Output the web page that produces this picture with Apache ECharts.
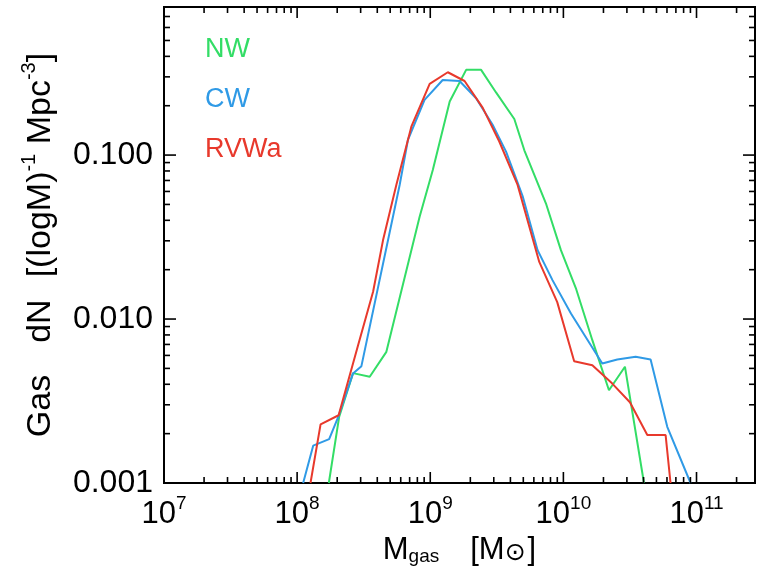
<!DOCTYPE html>
<html><head><meta charset="utf-8">
<script src="https://cdn.jsdelivr.net/npm/echarts@6/dist/echarts.min.js"></script>
<style>html,body{margin:0;padding:0;background:#fff}#c{width:758px;height:575px}</style>
</head><body><div id="c"></div>
<script>
// ---- data ----
const seriesNames = ['NW', 'CW', 'RVWa'];
const seriesColors = ['#33dd66', '#2f9ae6', '#e8392c'];
const massNW = [1.73e8, 2.07e8, 2.63e8, 3.51e8, 4.68e8, 8.32e8, 1.045e9, 1.40e9, 1.86e9, 2.41e9, 3.12e9, 4.28e9, 5.09e9, 7.39e9, 9.58e9, 1.24e10, 1.65e10, 2.20e10, 2.90e10, 4.03e10];
const dnNW = [0.001, 0.00254, 0.00468, 0.00445, 0.00631, 0.0421, 0.0811, 0.212, 0.331, 0.331, 0.241, 0.166, 0.107, 0.0508, 0.0263, 0.01545, 0.00743, 0.00368, 0.00512, 0.001];
const massCW = [1.11e8, 1.32e8, 1.74e8, 2.04e8, 2.63e8, 3.04e8, 5.89e8, 6.80e8, 9.06e8, 1.24e9, 1.66e9, 2.21e9, 2.94e9, 3.71e9, 4.94e9, 6.40e9, 8.28e9, 1.14e10, 1.96e10, 2.54e10, 3.49e10, 4.52e10, 6.03e10, 9.02e10];
const dnCW = [0.001, 0.00169, 0.00185, 0.00254, 0.00466, 0.00516, 0.0657, 0.124, 0.217, 0.287, 0.283, 0.222, 0.153, 0.105, 0.0563, 0.0263, 0.01727, 0.01082, 0.00535, 0.00567, 0.00588, 0.00567, 0.00220, 0.001];
const massRVWa = [1.26e8, 1.50e8, 2.05e8, 2.87e8, 3.72e8, 4.42e8, 5.56e8, 7.21e8, 9.9e8, 1.355e9, 1.81e9, 2.48e9, 3.30e9, 4.53e9, 6.59e9, 8.99e9, 1.205e10, 1.65e10, 2.33e10, 3.16e10, 4.27e10, 5.86e10, 6.38e10];
const dnRVWa = [0.001, 0.00228, 0.00259, 0.00693, 0.01466, 0.0303, 0.0657, 0.149, 0.272, 0.320, 0.283, 0.194, 0.121, 0.0657, 0.0223, 0.01268, 0.00553, 0.00523, 0.00404, 0.00311, 0.00196, 0.00196, 0.001];
const xMin = 1e7, xMax = 2.75e11, yMin = 0.001, yMax = 0.8;
const xTickExps = [7, 8, 9, 10, 11];
const yTickLabels = ['0.001', '0.010', '0.100'];
const yTickExps = [-3, -2, -1];

// ---- tick marks (major decades + minor 2..9) ----
const tickData = [];
for (let e = 7; e <= 11; e++) {
  for (let m = 1; m <= 9; m++) {
    const v = m * Math.pow(10, e);
    if (v >= xMin && v < xMax) tickData.push([v, yMin, 0, m === 1 ? 1 : 0]);
  }
}
for (let e = -3; e <= -1; e++) {
  for (let m = 1; m <= 9; m++) {
    const v = m * Math.pow(10, e);
    if (v >= yMin && v < yMax) tickData.push([xMin, v, 1, m === 1 ? 1 : 0]);
  }
}

const chart = echarts.init(document.getElementById('c'), null, {renderer: 'canvas'});
const seriesData = [
  massNW.map((m, i) => [m, dnNW[i]]),
  massCW.map((m, i) => [m, dnCW[i]]),
  massRVWa.map((m, i) => [m, dnRVWa[i]])
];

const FONT = 'Liberation Sans';
const lineSeries = seriesNames.map((n, i) => ({
  name: n, type: 'line', data: seriesData[i], showSymbol: false, symbol: 'none',
  lineStyle: {color: seriesColors[i], width: 2}, itemStyle: {color: seriesColors[i]},
  clip: true, z: 3
}));

chart.setOption({
  animation: false,
  textStyle: {fontFamily: FONT},
  grid: {left: 164, top: 7, right: 1, bottom: 92, show: true, borderColor: '#000', borderWidth: 2, backgroundColor: 'transparent'},
  legend: {
    orient: 'vertical', left: 195, top: 30, itemGap: 20, itemWidth: 0, itemHeight: 0,
    selectedMode: false,
    textStyle: {fontSize: 27, lineHeight: 30, fontFamily: FONT},
    data: seriesNames.map((n, i) => ({name: n, icon: 'rect', textStyle: {color: seriesColors[i]}}))
  },
  xAxis: {
    type: 'log', logBase: 10, min: xMin, max: xMax,
    axisLine: {show: false}, axisTick: {show: false}, splitLine: {show: false},
    axisLabel: {
      margin: 11, color: '#000',
      formatter: (val) => {
        const e = Math.log10(val);
        const r = Math.round(e);
        if (Math.abs(e - r) > 1e-6 || xTickExps.indexOf(r) < 0) return '';
        return '{n|10}{s|' + r + '}';
      },
      rich: {
        n: {fontSize: 31, lineHeight: 31, padding: [10, 0, 0, 0], color: '#000', fontFamily: FONT},
        s: {fontSize: 19, lineHeight: 19, verticalAlign: 'top', color: '#000', fontFamily: FONT}
      }
    },
    name: '{m|M}{sub|gas}{m2|[M}{od|⊙}{m3|]}',
    nameLocation: 'middle', nameGap: 50,
    nameTextStyle: {
      color: '#000',
      rich: {
        m: {fontSize: 31, lineHeight: 31, verticalAlign: 'bottom', color: '#000', fontFamily: FONT},
        m2: {fontSize: 31, lineHeight: 31, verticalAlign: 'bottom', color: '#000', fontFamily: FONT, padding: [0, 0, 0, 31]},
        m3: {fontSize: 31, lineHeight: 31, verticalAlign: 'bottom', color: '#000', fontFamily: FONT, padding: [0, 0, 0, 2]},
        sub: {fontSize: 19, lineHeight: 14, verticalAlign: 'bottom', color: '#000', fontFamily: FONT},
        od: {fontSize: 25, lineHeight: 16, verticalAlign: 'bottom', color: '#000', fontFamily: 'DejaVu Sans'}
      }
    }
  },
  yAxis: {
    type: 'log', logBase: 10, min: yMin, max: yMax,
    axisLine: {show: false}, axisTick: {show: false}, splitLine: {show: false},
    axisLabel: {
      margin: 11, color: '#000', fontSize: 32, fontFamily: FONT,
      formatter: (val) => {
        const e = Math.log10(val);
        const r = Math.round(e);
        if (Math.abs(e - r) > 1e-6) return '';
        const k = yTickExps.indexOf(r);
        return k < 0 ? '' : yTickLabels[k];
      }
    },
    name: '{a|Gas}{b|dN}{t|[(logM)}{s|-1}{t| Mpc}{s|-3}{t|]}',
    nameLocation: 'middle', nameGap: 111, nameRotate: 90,
    nameTextStyle: {
      color: '#000',
      rich: {
        a: {fontSize: 34, lineHeight: 34, padding: [10, 32, 0, 0], color: '#000', fontFamily: FONT},
        b: {fontSize: 34, lineHeight: 34, padding: [10, 22, 0, 0], color: '#000', fontFamily: FONT},
        t: {fontSize: 34, lineHeight: 34, padding: [10, 0, 0, 0], color: '#000', fontFamily: FONT},
        s: {fontSize: 20, lineHeight: 20, verticalAlign: 'top', color: '#000', fontFamily: FONT}
      }
    }
  },
  series: lineSeries.concat([{
    type: 'custom', name: 'ticks', silent: true, clip: false, z: 5,
    encode: {x: 0, y: 1},
    data: tickData,
    renderItem: (params, api) => {
      const isY = api.value(2), major = api.value(3);
      const st = {stroke: '#000', lineWidth: 1.6};
      if (!isY) {
        const v = api.value(0);
        const len = major ? 11 : 6;
        const b = api.coord([v, yMin]);
        const t = api.coord([v, yMax]);
        return {type: 'group', children: [
          {type: 'line', shape: {x1: b[0], y1: b[1], x2: b[0], y2: b[1] - len}, style: st},
          {type: 'line', shape: {x1: t[0], y1: t[1], x2: t[0], y2: t[1] + len}, style: st}
        ]};
      } else {
        const v = api.value(1);
        const len = major ? 12 : 6;
        const l = api.coord([xMin, v]);
        const r = api.coord([xMax, v]);
        return {type: 'group', children: [
          {type: 'line', shape: {x1: l[0], y1: l[1], x2: l[0] + len, y2: l[1]}, style: st},
          {type: 'line', shape: {x1: r[0], y1: r[1], x2: r[0] - len, y2: r[1]}, style: st}
        ]};
      }
    }
  }])
});
</script>
</body></html>
